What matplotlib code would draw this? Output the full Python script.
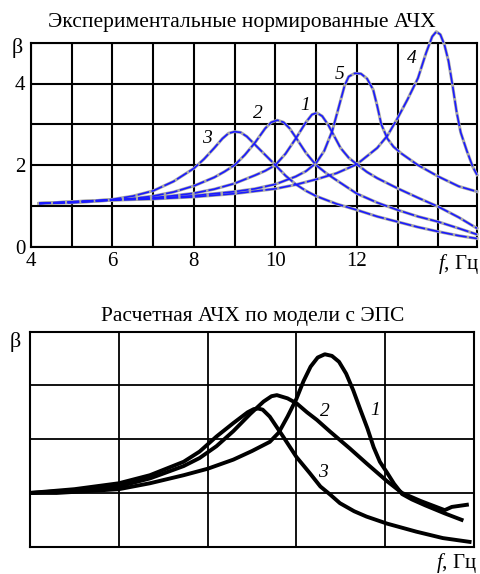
import numpy as np
import matplotlib
matplotlib.use('Agg')
import matplotlib.pyplot as plt

plt.rcParams['font.family'] = ['Liberation Serif', 'DejaVu Serif']
plt.rcParams['mathtext.fontset'] = 'custom'
plt.rcParams['mathtext.it'] = 'Liberation Serif:italic'
plt.rcParams['mathtext.rm'] = 'Liberation Serif'

W, H = 480, 574

# --- top chart: experimental curves (f in Hz, beta)
exp_f1 = [4.2, 6, 7, 7.5, 8, 8.5, 9, 9.5, 9.75, 10, 10.25, 10.5, 10.75, 10.9, 11.02, 11.15, 11.3, 11.45,
          11.6, 11.8, 12, 12.25, 12.5, 13, 13.5, 14, 14.5, 14.95]
exp_b1 = [1.06, 1.15, 1.2, 1.25, 1.31, 1.41, 1.55, 1.75, 1.86, 2.0, 2.28, 2.65, 3.05, 3.24, 3.28, 3.2, 2.98, 2.7,
          2.42, 2.18, 2.02, 1.83, 1.68, 1.43, 1.2, 0.98, 0.72, 0.45]
exp_f2 = [4.2, 5, 6, 6.5, 7, 7.5, 8, 8.5, 8.75, 9, 9.25, 9.5, 9.75, 9.9, 10.05, 10.2, 10.35, 10.5, 10.75,
          11, 11.25, 11.5, 12, 12.5, 13, 13.5, 14, 14.5, 14.95]
exp_b2 = [1.06, 1.08, 1.14, 1.18, 1.24, 1.34, 1.49, 1.7, 1.84, 2.0, 2.25, 2.55, 2.9, 3.05, 3.1, 3.05, 2.9, 2.68, 2.3,
          2.0, 1.8, 1.63, 1.3, 1.08, 0.9, 0.74, 0.61, 0.45, 0.3]
exp_f3 = [4.2, 5, 5.5, 6, 6.5, 7, 7.5, 8, 8.25, 8.5, 8.7, 8.85, 9, 9.15, 9.3, 9.5, 9.75, 10, 10.25, 10.5,
          10.75, 11, 11.5, 12, 12.5, 13, 13.5, 14, 14.5, 14.95]
exp_b3 = [1.06, 1.08, 1.11, 1.16, 1.24, 1.37, 1.6, 1.92, 2.15, 2.42, 2.65, 2.78, 2.82, 2.8, 2.7, 2.5, 2.25, 2.0, 1.74, 1.53,
          1.37, 1.24, 1.05, 0.9, 0.74, 0.61, 0.48, 0.37, 0.27, 0.2]
exp_f4 = [4.2, 6, 7, 8, 9, 10, 10.5, 11, 11.5, 12, 12.5, 12.75, 13, 13.25, 13.5, 13.7, 13.85, 13.95, 14.05,
          14.15, 14.25, 14.35, 14.45, 14.55, 14.7, 14.85, 14.95]
exp_b4 = [1.06, 1.14, 1.17, 1.22, 1.3, 1.42, 1.52, 1.65, 1.8, 2.02, 2.42, 2.72, 3.15, 3.62, 4.13, 4.75, 5.15, 5.27, 5.2,
          4.95, 4.55, 3.95, 3.3, 2.8, 2.35, 1.95, 1.76]
exp_f5 = [4.2, 6, 7, 8, 9, 9.5, 10, 10.5, 10.75, 11, 11.2, 11.4, 11.55, 11.7, 11.8, 11.95, 12.1, 12.25, 12.4,
          12.5, 12.6, 12.75, 12.9, 13.1, 13.5, 14, 14.5, 14.95]
exp_b5 = [1.06, 1.15, 1.18, 1.25, 1.35, 1.42, 1.53, 1.72, 1.85, 2.05, 2.35, 2.85, 3.4, 3.95, 4.17, 4.25, 4.24, 4.12, 3.85,
          3.45, 3.0, 2.65, 2.45, 2.28, 2.0, 1.72, 1.48, 1.35]
exp_labels = ['1', '2', '3', '4', '5']
exp_label_pos = [(10.74, 3.45), (9.56, 3.27), (8.31, 2.66), (13.36, 4.62), (11.57, 4.23)]

# --- bottom chart: model curves (grid units)
mod_x1 = [0, 0.3, 0.6, 1.0, 1.35, 1.73, 2.0, 2.29, 2.5, 2.7, 2.8, 2.9, 3.0, 3.08, 3.16, 3.24, 3.32, 3.4, 3.48,
          3.56, 3.64, 3.72, 3.8, 3.87, 3.94, 4.02, 4.1, 4.19, 4.3, 4.45, 4.67, 4.86]
mod_y1 = [1.0, 1.0, 1.03, 1.07, 1.18, 1.33, 1.45, 1.62, 1.78, 1.95, 2.12, 2.42, 2.75, 3.08, 3.35, 3.52, 3.58, 3.55, 3.44,
          3.22, 2.91, 2.55, 2.2, 1.85, 1.58, 1.38, 1.17, 0.98, 0.88, 0.77, 0.62, 0.5]
mod_x2 = [0, 0.5, 1.0, 1.35, 1.73, 1.91, 2.1, 2.29, 2.48, 2.63, 2.72, 2.78, 2.9, 3.0, 3.12, 3.23, 3.38, 3.6,
          3.79, 4.02, 4.19, 4.4, 4.67, 4.75, 4.92]
mod_y2 = [1.0, 1.05, 1.12, 1.27, 1.5, 1.65, 1.87, 2.15, 2.47, 2.7, 2.8, 2.82, 2.76, 2.67, 2.5, 2.36, 2.14, 1.83,
          1.55, 1.22, 1.0, 0.85, 0.68, 0.74, 0.78]
mod_x3 = [0, 0.5, 1.0, 1.35, 1.73, 1.91, 2.1, 2.29, 2.45, 2.52, 2.57, 2.62, 2.7, 2.85, 3.0, 3.15, 3.27, 3.38,
          3.49, 3.65, 3.79, 4.02, 4.35, 4.65, 4.95]
mod_y3 = [1.0, 1.07, 1.18, 1.33, 1.58, 1.77, 2.05, 2.3, 2.5, 2.56, 2.57, 2.55, 2.42, 2.05, 1.67, 1.37, 1.12, 0.97,
          0.81, 0.66, 0.56, 0.43, 0.28, 0.16, 0.09]
mod_labels = ['1', '2', '3']
mod_label_pos = [(3.89, 2.54), (3.32, 2.51), (3.30, 1.38)]


def fx(px):
    return px / W


def fy(py):
    return 1 - py / H


fig = plt.figure(figsize=(W / 100, H / 100), dpi=100)

# top panel
ax1 = fig.add_axes([fx(31), fy(246.7), fx(477) - fx(31), fy(42.7) - fy(246.7)])
ax1.set_xlim(4, 14.95)
ax1.set_ylim(0, 5)
xt = list(range(4, 15))
ax1.set_xticks(xt)
ax1.set_xticklabels([str(v) if v in (4, 6, 8, 10, 12) else '' for v in xt])
yt = list(range(0, 6))
ax1.set_yticks(yt)
ax1.set_yticklabels([str(v) if v in (0, 2, 4) else '' for v in yt])
ax1.tick_params(length=0, labelsize=15, pad=4)
ax1.grid(True, color='black', lw=1.5)
for s in ax1.spines.values():
    s.set_linewidth(1.5)

for fx_, b_ in [(exp_f1, exp_b1), (exp_f2, exp_b2), (exp_f3, exp_b3), (exp_f4, exp_b4), (exp_f5, exp_b5)]:
    ax1.plot(fx_, b_, color='#a8a8a8', lw=2.2, clip_on=False, zorder=3)
    ax1.plot(fx_, b_, color='#1a1aff', lw=1.2, dashes=(7, 1.5), clip_on=False, zorder=4)

for lab, (x, y) in zip(exp_labels, exp_label_pos):
    ax1.text(x, y, lab, fontsize=14, style='italic', ha='center', va='center', zorder=5)

fig.text(fx(242), fy(22), 'Экспериментальные нормированные АЧХ', fontsize=15.5,
         ha='center', va='center')
fig.text(fx(17), fy(48), 'β', fontsize=16, ha='center', va='center')
fig.text(fx(458), fy(264), '$\\mathit{f}$, Гц', fontsize=15, ha='center', va='center')

# bottom panel
ax2 = fig.add_axes([fx(30), fy(546.7), fx(474) - fx(30), fy(331.7) - fy(546.7)])
ax2.set_xlim(0, 5)
ax2.set_ylim(0, 4)
ax2.set_xticks(range(0, 6))
ax2.set_yticks(range(0, 5))
ax2.set_xticklabels([])
ax2.set_yticklabels([])
ax2.tick_params(length=0)
ax2.grid(True, color='black', lw=1.3)
for s in ax2.spines.values():
    s.set_linewidth(1.5)

for x_, y_ in [(mod_x1, mod_y1), (mod_x2, mod_y2), (mod_x3, mod_y3)]:
    ax2.plot(x_, y_, color='black', lw=2.8, zorder=3, solid_joinstyle='round')

for lab, (x, y) in zip(mod_labels, mod_label_pos):
    ax2.text(x, y, lab, fontsize=14, style='italic', ha='center', va='center', zorder=5)

fig.text(fx(253), fy(317), 'Расчетная АЧХ по модели с ЭПС', fontsize=15.5,
         ha='center', va='center')
fig.text(fx(15), fy(342), 'β', fontsize=16, ha='center', va='center')
fig.text(fx(456), fy(563), '$\\mathit{f}$, Гц', fontsize=15, ha='center', va='center')

fig.savefig('out.png', dpi=100)
